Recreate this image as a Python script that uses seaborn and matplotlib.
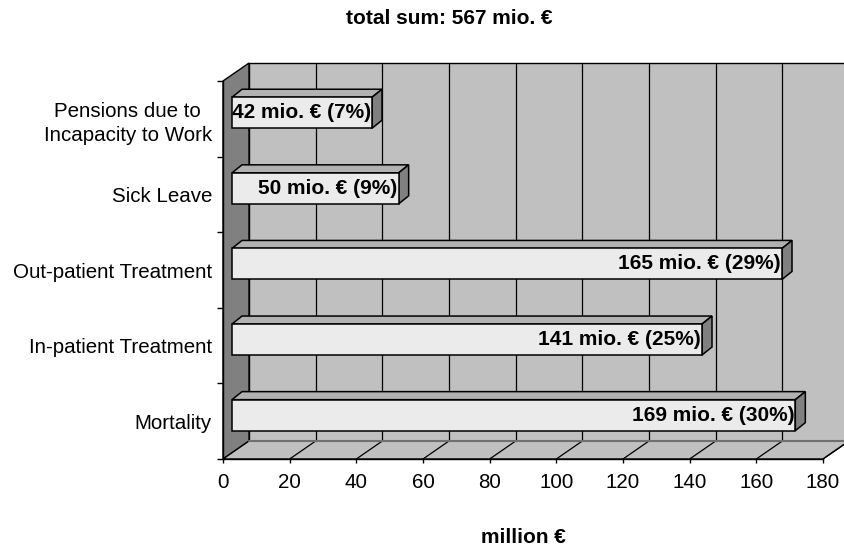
import numpy as np
import pandas as pd
import seaborn as sns
import matplotlib.pyplot as plt
from matplotlib.patches import Polygon

# data
categories = ["Pensions due to\nIncapacity to Work", "Sick Leave",
              "Out-patient Treatment", "In-patient Treatment", "Mortality"]
costs = [42, 50, 165, 141, 169]
shares = [7, 9, 29, 25, 30]
x_ticks = [0, 20, 40, 60, 80, 100, 120, 140, 160, 180]

df = pd.DataFrame({"category": categories, "cost": costs, "share": shares})

sns.set_style("white")
plt.rcParams["font.family"] = ["Liberation Sans", "DejaVu Sans"]
plt.rcParams["text.color"] = "black"
plt.rcParams["xtick.color"] = "black"
plt.rcParams["ytick.color"] = "black"
plt.rcParams["axes.labelcolor"] = "black"

fig = plt.figure(figsize=(8.44, 5.49), dpi=100)
ax = fig.add_axes([223 / 844, 90 / 549, 600 / 844, 378 / 549])
ax.set_facecolor("none")

# depth of the fake 3d box, in data units (26px x 18px)
DX, DY = 7.8, 0.238
# bar front sits a bit inside the box, bar depth
FX, FY = 2.7, 0.08
BX, BY = 3.0, 0.106

sns.barplot(data=df, x="cost", y="category", orient="h", width=0.41,
            color="#ebebeb", saturation=1, edgecolor="black", linewidth=1.1,
            ax=ax, zorder=3)

ax.set_xlim(0, 180)
ax.set_ylim(4.5, -0.5)

# walls and floor
wall_kw = dict(edgecolor="black", linewidth=1.0, clip_on=False)
ax.add_patch(Polygon([(DX, -0.5 - DY), (180 + DX, -0.5 - DY), (180 + DX, 4.5 - DY), (DX, 4.5 - DY)],
                     facecolor="#c0c0c0", zorder=0.5, **wall_kw))
ax.add_patch(Polygon([(0, -0.5), (DX, -0.5 - DY), (DX, 4.5 - DY), (0, 4.5)],
                     facecolor="#808080", zorder=0.6, **wall_kw))
ax.add_patch(Polygon([(0, 4.5), (180, 4.5), (180 + DX, 4.5 - DY), (DX, 4.5 - DY)],
                     facecolor="#c0c0c0", zorder=0.6, **wall_kw))
for v in x_ticks[1:]:
    ax.plot([v + DX, v + DX], [-0.5 - DY, 4.5 - DY], color="black", lw=0.9, zorder=0.7, clip_on=False)
    ax.plot([v, v + DX], [4.5, 4.5 - DY], color="black", lw=0.9, zorder=0.7, clip_on=False)
ax.plot([DX, 180 + DX], [4.5 - DY, 4.5 - DY], color="#707070", lw=1.5, zorder=0.8, clip_on=False)

# shift bar fronts into the box, add top and side faces and labels
for bar, cost, share in zip(ax.patches[:len(costs)], df["cost"], df["share"]):
    bar.set_x(bar.get_x() + FX)
    bar.set_y(bar.get_y() - FY)
    x0, x1 = bar.get_x(), bar.get_x() + bar.get_width()
    yt, yb = bar.get_y(), bar.get_y() + bar.get_height()
    ax.add_patch(Polygon([(x0, yt), (x1, yt), (x1 + BX, yt - BY), (x0 + BX, yt - BY)],
                         facecolor="#b2b2b2", edgecolor="black", lw=1.1, zorder=2.9, clip_on=False))
    ax.add_patch(Polygon([(x1, yt), (x1 + BX, yt - BY), (x1 + BX, yb - BY), (x1, yb)],
                         facecolor="#808080", edgecolor="black", lw=1.1, zorder=2.9, clip_on=False))
    ax.text(x1 - 0.3, (yt + yb) / 2, f"{cost} mio. € ({share}%)", ha="right", va="center",
            fontsize=15, fontweight="bold", color="black", zorder=4)

for s in ["top", "right"]:
    ax.spines[s].set_visible(False)
for s in ["left", "bottom"]:
    ax.spines[s].set_color("black")
    ax.spines[s].set_linewidth(1.0)
    ax.spines[s].set_zorder(2)

ax.set_xticks(x_ticks)
ax.tick_params(axis="x", length=3, width=1, color="black", direction="out", pad=7, labelsize=14.8, bottom=True)
ax.set_yticks(range(len(categories)))
ax.set_yticklabels(categories)
for lab in ax.get_yticklabels():
    lab.set_multialignment("center")
    lab.set_linespacing(1.35)
ax.tick_params(axis="y", length=0, pad=8, labelsize=14.8)
ax.set_yticks(np.arange(-0.5, 5, 1), minor=True)
ax.tick_params(axis="y", which="minor", length=4.5, width=1, color="black", left=True)

ax.set_ylabel("")
ax.set_xlabel("million €", fontsize=15, fontweight="bold", labelpad=26)
fig.suptitle("total sum: 567 mio. €", x=449 / 844, y=1 - 18 / 549, va="center",
             fontsize=15, fontweight="bold")

fig.savefig("out.png", dpi=100)
